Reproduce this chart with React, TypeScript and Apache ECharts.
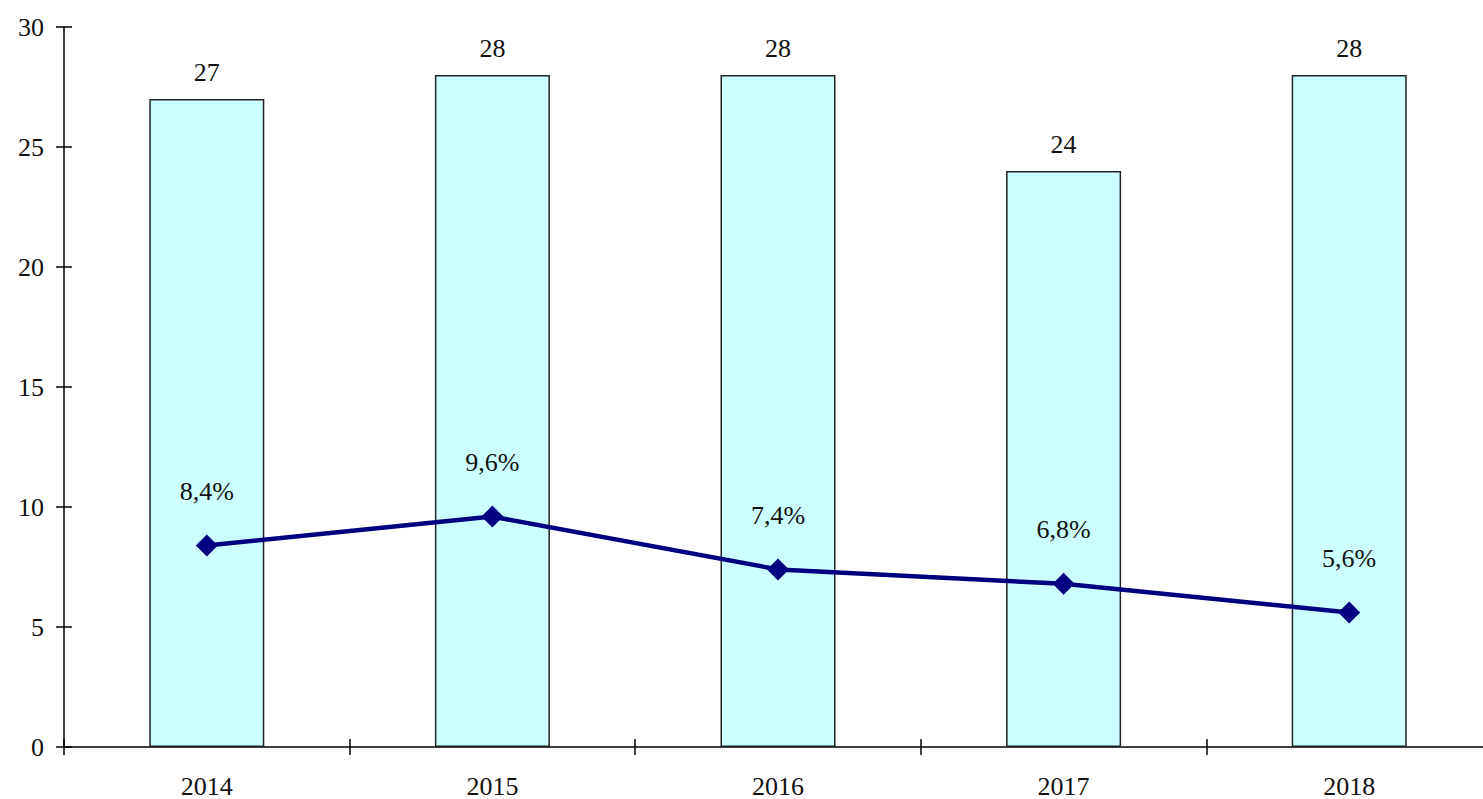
import React, { useEffect, useRef } from "react";
import * as echarts from "echarts";

const years = ["2014", "2015", "2016", "2017", "2018"];
const barValues = [27, 28, 28, 24, 28];
const lineValues = [8.4, 9.6, 7.4, 6.8, 5.6];
const yTicks = { min: 0, max: 30, interval: 5 };

const FONT = "'Liberation Serif', 'Times New Roman', serif";
const FS = 26;

export default function App() {
  const ref = useRef<HTMLDivElement>(null);
  useEffect(() => {
    if (!ref.current) return;
    const chart = echarts.init(ref.current, null, { renderer: "svg" });
    const axisLine = { show: true, lineStyle: { color: "#000", width: 1.5 } };
    const hiddenLine = { show: true, lineStyle: { color: "rgba(0,0,0,0)", width: 0 } };
    const tick = { show: true, length: 16, lineStyle: { color: "#000", width: 1.5 } };
    chart.setOption({
      animation: false,
      backgroundColor: "#fff",
      grid: { left: 64, right: 5, top: 27, bottom: 49, containLabel: false },
      xAxis: [
        {
          type: "category",
          data: years,
          boundaryGap: true,
          axisLine,
          axisTick: { show: false },
          axisLabel: { color: "#111", fontFamily: FONT, fontSize: FS, margin: 26 },
          splitLine: { show: false },
        },
        {
          type: "category",
          data: years,
          position: "bottom",
          offset: -8,
          boundaryGap: true,
          axisLine: hiddenLine,
          axisTick: tick,
          axisLabel: { show: false },
          splitLine: { show: false },
        },
      ],
      yAxis: [
        {
          type: "value",
          ...yTicks,
          axisLine,
          axisTick: { show: false },
          axisLabel: { color: "#111", fontFamily: FONT, fontSize: FS, margin: 20 },
          splitLine: { show: false },
        },
        {
          type: "value",
          ...yTicks,
          position: "left",
          offset: -8,
          axisLine: hiddenLine,
          axisTick: tick,
          axisLabel: { show: false },
          splitLine: { show: false },
        },
      ],
      series: [
        {
          type: "bar",
          data: barValues,
          barWidth: 115,
          itemStyle: { color: "#CCFFFF", borderColor: "#222", borderWidth: 1.5 },
          label: {
            show: true,
            position: "top",
            distance: 14,
            color: "#111",
            fontFamily: FONT,
            fontSize: FS,
          },
        },
        {
          type: "line",
          data: lineValues,
          symbol: "diamond",
          symbolSize: 22,
          lineStyle: { color: "#000080", width: 4.5 },
          itemStyle: { color: "#000080" },
          label: {
            show: true,
            position: "top",
            distance: 30,
            color: "#111",
            fontFamily: FONT,
            fontSize: FS,
            formatter: (p: any) => String(p.value).replace(".", ",") + "%",
          },
        },
      ],
    });
    return () => chart.dispose();
  }, []);
  return (
    <div
      style={{
        position: "absolute",
        left: 0,
        top: 0,
        width: 1483,
        height: 799,
        overflow: "hidden",
      }}
    >
      <div ref={ref} style={{ width: 1497, height: 799 }} />
    </div>
  );
}
